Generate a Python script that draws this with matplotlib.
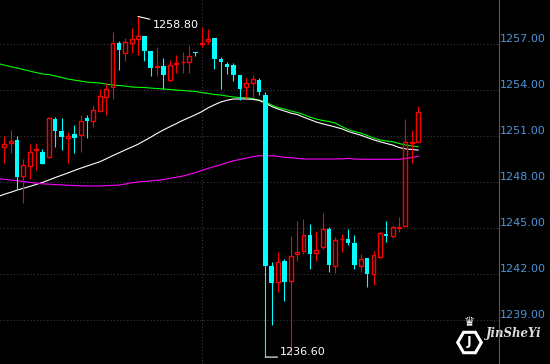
import numpy as np
import matplotlib.pyplot as plt

# candle data (bar -1 is cut by the left edge)
opens = [1250.90, 1250.31, 1250.53, 1250.75, 1248.40, 1249.07, 1250.12, 1249.96, 1249.66, 1252.11,
         1251.33, 1250.90, 1251.12, 1251.05, 1252.16, 1252.00, 1252.65, 1253.57, 1254.18, 1257.08,
         1256.43, 1257.08, 1257.36, 1257.52, 1256.54, 1255.50, 1255.57, 1254.67, 1255.72, 1255.81,
         1255.81, 1256.46, 1257.00, 1257.20, 1257.39, 1256.00, 1255.70, 1255.63, 1254.98, 1254.18,
         1254.44, 1254.65, 1253.68, 1242.54, 1241.47, 1242.86, 1241.58, 1243.30, 1243.53, 1244.56,
         1243.36, 1243.79, 1244.93, 1242.56, 1244.28, 1244.28, 1244.05, 1242.54, 1243.06, 1242.02,
         1243.10, 1244.62, 1244.51, 1245.00, 1245.16, 1250.58, 1250.63]
highs = [1250.95, 1251.01, 1251.40, 1251.01, 1249.49, 1250.50, 1250.57, 1250.16, 1252.26, 1252.26,
         1252.16, 1251.29, 1251.72, 1252.37, 1252.37, 1253.03, 1254.05, 1254.44, 1257.76, 1257.20,
         1257.41, 1258.06, 1258.80, 1257.52, 1256.54, 1256.78, 1256.07, 1255.96, 1256.28, 1256.50,
         1256.92, 1256.46, 1258.13, 1257.98, 1257.39, 1256.17, 1255.85, 1255.78, 1254.98, 1254.77,
         1254.98, 1254.77, 1253.85, 1242.82, 1243.47, 1242.99, 1244.49, 1245.47, 1245.60, 1245.27,
         1244.82, 1245.97, 1245.06, 1244.41, 1244.62, 1244.95, 1244.56, 1243.32, 1243.06, 1243.53,
         1244.77, 1245.49, 1245.21, 1245.75, 1252.11, 1251.40, 1252.96]
lows = [1250.20, 1249.23, 1249.88, 1247.53, 1246.66, 1248.19, 1248.79, 1249.20, 1249.59, 1250.31,
        1250.09, 1249.23, 1249.92, 1249.98, 1250.90, 1251.61, 1252.65, 1252.37, 1253.44, 1255.31,
        1255.89, 1256.39, 1256.28, 1255.89, 1254.92, 1254.92, 1254.05, 1254.61, 1255.13, 1255.13,
        1255.13, 1256.24, 1256.78, 1257.00, 1255.35, 1254.05, 1255.05, 1254.61, 1253.35, 1253.46,
        1253.46, 1253.68, 1236.60, 1238.69, 1240.86, 1240.28, 1236.70, 1242.86, 1243.32, 1242.34,
        1242.86, 1243.64, 1242.17, 1242.10, 1243.42, 1243.90, 1242.34, 1242.17, 1241.19, 1241.30,
        1243.06, 1244.12, 1244.38, 1244.77, 1245.16, 1249.27, 1250.63]
closes = [1250.29, 1250.47, 1250.68, 1248.35, 1249.12, 1249.94, 1250.16, 1249.20, 1252.16, 1251.35,
          1250.96, 1251.01, 1250.90, 1251.98, 1252.00, 1252.70, 1253.61, 1254.07, 1257.05, 1256.61,
          1257.13, 1257.33, 1257.52, 1256.54, 1255.46, 1255.55, 1254.98, 1255.61, 1255.76, 1255.86,
          1256.22, 1256.39, 1257.08, 1257.33, 1256.04, 1255.83, 1255.52, 1254.98, 1254.07, 1254.44,
          1254.72, 1253.89, 1242.56, 1241.45, 1242.78, 1241.51, 1243.19, 1243.45, 1244.56, 1243.30,
          1243.58, 1244.93, 1242.60, 1244.23, 1244.32, 1244.05, 1242.60, 1242.99, 1242.02, 1243.25,
          1244.71, 1244.51, 1245.06, 1245.06, 1250.60, 1250.62, 1252.55]

# moving averages, one value per bar
ma_green = [1255.73, 1255.63, 1255.53, 1255.44, 1255.34, 1255.24, 1255.14, 1255.05, 1255.01, 1254.92,
            1254.82, 1254.72, 1254.65, 1254.59, 1254.52, 1254.49, 1254.46, 1254.39, 1254.33, 1254.30,
            1254.26, 1254.20, 1254.18, 1254.17, 1254.13, 1254.10, 1254.07, 1254.04, 1254.00, 1253.97,
            1253.94, 1253.91, 1253.84, 1253.78, 1253.71, 1253.68, 1253.61, 1253.55, 1253.51, 1253.50,
            1253.45, 1253.35, 1253.22, 1253.03, 1252.86, 1252.77, 1252.64, 1252.54, 1252.41, 1252.24,
            1252.11, 1252.02, 1251.95, 1251.85, 1251.63, 1251.43, 1251.30, 1251.20, 1251.04, 1250.88,
            1250.75, 1250.68, 1250.64, 1250.52, 1250.42, 1250.36, 1250.31]
ma_white = [1247.06, 1247.21, 1247.34, 1247.48, 1247.60, 1247.72, 1247.85, 1247.98, 1248.14, 1248.30,
            1248.45, 1248.60, 1248.76, 1248.91, 1249.05, 1249.19, 1249.33, 1249.52, 1249.72, 1249.91,
            1250.10, 1250.28, 1250.47, 1250.70, 1250.93, 1251.18, 1251.40, 1251.61, 1251.81, 1252.02,
            1252.20, 1252.39, 1252.59, 1252.84, 1253.04, 1253.22, 1253.34, 1253.42, 1253.42, 1253.42,
            1253.40, 1253.33, 1253.16, 1252.93, 1252.77, 1252.64, 1252.50, 1252.41, 1252.24, 1252.08,
            1251.92, 1251.80, 1251.70, 1251.59, 1251.48, 1251.31, 1251.18, 1251.06, 1250.91, 1250.76,
            1250.64, 1250.52, 1250.42, 1250.26, 1250.17, 1250.13, 1250.09]
ma_magenta = [1248.22, 1248.19, 1248.14, 1248.09, 1248.04, 1247.99, 1247.94, 1247.89, 1247.87, 1247.84,
              1247.82, 1247.80, 1247.78, 1247.76, 1247.75, 1247.75, 1247.75, 1247.77, 1247.79, 1247.81,
              1247.88, 1247.96, 1248.01, 1248.05, 1248.08, 1248.12, 1248.17, 1248.25, 1248.32, 1248.39,
              1248.50, 1248.62, 1248.76, 1248.89, 1249.02, 1249.14, 1249.27, 1249.39, 1249.48, 1249.57,
              1249.66, 1249.72, 1249.72, 1249.72, 1249.68, 1249.62, 1249.59, 1249.55, 1249.51, 1249.51,
              1249.51, 1249.51, 1249.51, 1249.51, 1249.51, 1249.55, 1249.51, 1249.49, 1249.49, 1249.49,
              1249.49, 1249.49, 1249.49, 1249.49, 1249.54, 1249.61, 1249.68]

price_ticks = [1239, 1242, 1245, 1248, 1251, 1254, 1257]
high_bar, high_price = 21, 1258.80
low_bar, low_price = 41, 1236.60

RED = '#ff0000'
CYAN = '#00ffff'

x = np.arange(-1, len(opens) - 1)
o = np.array(opens)
c = np.array(closes)
h = np.array(highs)
l = np.array(lows)
up = c >= o
top = np.maximum(o, c)
bot = np.minimum(o, c)
body = np.maximum(top - bot, 0.03)

fig = plt.figure(figsize=(5.5, 3.64), dpi=100, facecolor='black')
ax = fig.add_axes([0, 0, 499 / 550, 1])
ax.set_facecolor('black')

# grid
for v in price_ticks:
    ax.axhline(v, color='#3c3c46', lw=0.8, ls=(0, (1, 2)), zorder=1)
ax.axvline(31, color='#3c3c46', lw=0.8, ls=(0, (1, 2)), zorder=1)

# moving averages
ax.plot(x, ma_green, color='#00ff00', lw=0.8, zorder=2)
ax.plot(x, ma_white, color='white', lw=0.8, zorder=2)
ax.plot(x, ma_magenta, color='#ff00ff', lw=0.8, zorder=2)

# candles
ax.vlines(x[up], top[up], h[up], color=RED, lw=0.8, zorder=3)
ax.vlines(x[up], l[up], bot[up], color=RED, lw=0.8, zorder=3)
ax.vlines(x[~up], l[~up], h[~up], color=CYAN, lw=0.8, zorder=3)
ax.bar(x[up], body[up], bottom=bot[up], width=0.62, facecolor='none',
       edgecolor=RED, lw=1.0, zorder=4)
ax.bar(x[~up], body[~up], bottom=bot[~up], width=0.7, color=CYAN, lw=0, zorder=4)

# high / low markers
ax.annotate(f'{high_price:.2f}', xy=(high_bar, high_price), xytext=(10.5, -2.5),
            textcoords='offset points', ha='left', va='top', color='white', fontsize=8,
            arrowprops=dict(arrowstyle='-', color='white', lw=0.8, relpos=(0, 1),
                            shrinkA=0, shrinkB=0))
ax.annotate(f'{low_price:.2f}', xy=(low_bar, low_price), xytext=(10.8, 0),
            textcoords='offset points', ha='left', va='bottom', color='white', fontsize=8,
            arrowprops=dict(arrowstyle='-', color='white', lw=0.8, relpos=(0, 0),
                            shrinkA=0, shrinkB=0))

# price axis on the right
for v in price_ticks:
    ax.text(1.002, v, f'{v:.2f}', transform=ax.get_yaxis_transform(), color='#4d94db',
            fontsize=8, ha='left', va='bottom')

ax.set_xlim(-0.675, 77.71)
ax.set_ylim(1236.15, 1259.87)
ax.set_xticks([])
ax.set_yticks([])
for s in ['top', 'left', 'bottom']:
    ax.spines[s].set_visible(False)
ax.spines['right'].set_color('#5a5a5a')
ax.spines['right'].set_linewidth(0.8)

# watermark
fig.text(469 / 550, 1 - 342 / 364, 'J', color='white', fontsize=9, fontweight='bold',
         ha='center', va='center')
fig.lines.append(plt.Line2D([469 / 550], [1 - 342 / 364], marker='H', markersize=17,
                            markerfacecolor='none', markeredgecolor='white', markeredgewidth=2.2,
                            transform=fig.transFigure))
fig.text(469 / 550, 1 - 323 / 364, '\u265b', color='white', fontsize=9,
         ha='center', va='center')
fig.text(514 / 550, 1 - 334 / 364, 'JinSheYi', color='#dddddd', fontsize=8.5,
         family='DejaVu Serif', style='italic', fontweight='bold', ha='center', va='center')

fig.savefig('out.png', dpi=100, facecolor='black')
